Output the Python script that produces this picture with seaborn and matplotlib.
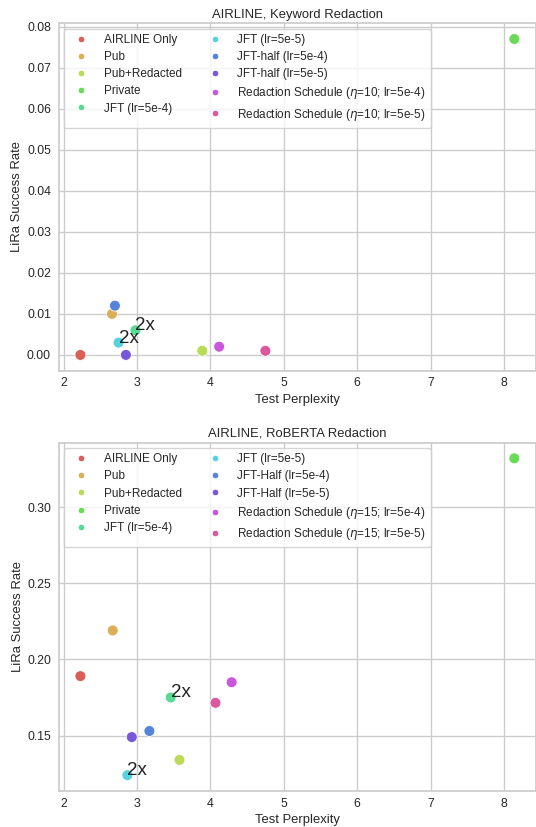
import matplotlib
matplotlib.use("Agg")
import matplotlib.pyplot as plt
import seaborn as sns
import pandas as pd

methods_kw = ["AIRLINE Only", "Pub", "Pub+Redacted", "Private", "JFT (lr=5e-4)",
              "JFT (lr=5e-5)", "JFT-half (lr=5e-4)", "JFT-half (lr=5e-5)",
              r"Redaction Schedule ($\eta$=10; lr=5e-4)", r"Redaction Schedule ($\eta$=10; lr=5e-5)"]
ppl_kw = [2.23, 2.66, 3.89, 8.14, 2.98, 2.75, 2.70, 2.85, 4.12, 4.75]
lira_kw = [0.000, 0.010, 0.001, 0.077, 0.006, 0.003, 0.012, 0.000, 0.002, 0.001]
tag_kw = ["", "", "", "", "2x", "2x", "", "", "", ""]

methods_rb = ["AIRLINE Only", "Pub", "Pub+Redacted", "Private", "JFT (lr=5e-4)",
              "JFT (lr=5e-5)", "JFT-Half (lr=5e-4)", "JFT-Half (lr=5e-5)",
              r"Redaction Schedule ($\eta$=15; lr=5e-4)", r"Redaction Schedule ($\eta$=15; lr=5e-5)"]
ppl_rb = [2.23, 2.67, 3.58, 8.14, 3.46, 2.87, 3.17, 2.93, 4.29, 4.07]
lira_rb = [0.189, 0.219, 0.134, 0.332, 0.175, 0.124, 0.153, 0.149, 0.185, 0.1715]
tag_rb = ["", "", "", "", "2x", "2x", "", "", "", ""]

sns.set_theme(style="whitegrid")
plt.rcParams['font.family'] = ['Liberation Sans', 'DejaVu Sans']

fig, axes = plt.subplots(2, 1, figsize=(5.36, 8.27), dpi=100)
axes[0].set_position([58.7/536, 1-370.7/827, 1-58.7/536, (370.7-23.2)/827])
axes[1].set_position([58.7/536, 1-791.0/827, 1-58.7/536, (791.0-442.5)/827])

pal = sns.color_palette("hls", 10)

for ax, methods, ppl, lira, tags, title in [
    (axes[0], methods_kw, ppl_kw, lira_kw, tag_kw, "AIRLINE, Keyword Redaction"),
    (axes[1], methods_rb, ppl_rb, lira_rb, tag_rb, "AIRLINE, RoBERTA Redaction"),
]:
    df = pd.DataFrame({"Method": methods, "ppl": ppl, "lira": lira})
    sns.scatterplot(data=df, x="ppl", y="lira", hue="Method", palette=pal,
                    s=62, ax=ax, edgecolor="white", linewidth=0.6)
    for x, y, t in zip(ppl, lira, tags):
        if t:
            ax.text(x, y, t, fontsize=13.5, color="#222222")
    ax.set_title(title, fontsize=9.4, pad=4)
    ax.tick_params(axis="both", length=0, labelsize=8.8)
    ax.tick_params(axis="y", pad=5.6)
    ax.tick_params(axis="x", pad=4.8)
    ax.set_xlabel("Test Perplexity", fontsize=9.4, labelpad=3)
    ax.set_ylabel("LiRa Success Rate", fontsize=9.4, labelpad=2.5)
    ax.legend(ncol=2, loc="upper left", fontsize=8.5, title=None,
              markerscale=0.6, handletextpad=0.9, columnspacing=1.8,
              borderaxespad=0.45, labelspacing=0.44, borderpad=0.45)

fig.savefig("out.png", dpi=100)
